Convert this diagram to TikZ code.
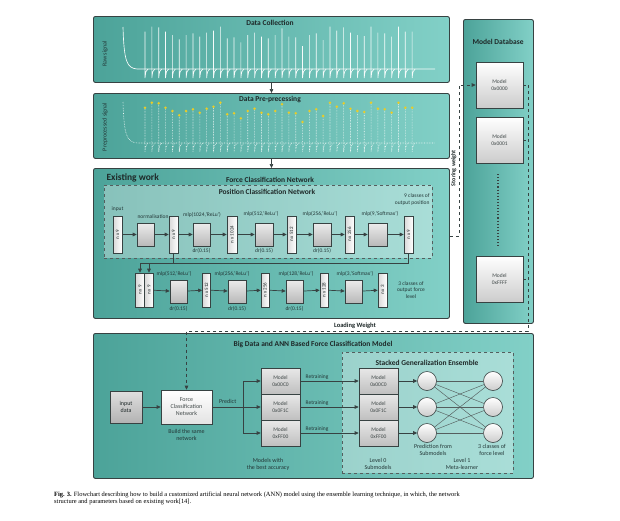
\documentclass[tikz,border=0pt]{standalone}
\usepackage{fontspec}
\setmainfont{Carlito}
\newfontfamily\capfont{Liberation Serif}
\usetikzlibrary{arrows.meta}
\definecolor{tealL}{RGB}{76,163,153}
\definecolor{tealR}{RGB}{130,208,199}
\definecolor{bordc}{RGB}{55,66,66}
\definecolor{txtc}{RGB}{30,40,40}
\definecolor{labc}{RGB}{35,55,55}
\definecolor{dotc}{RGB}{232,204,40}
\begin{document}
\begin{tikzpicture}[x=1pt,y=-1pt,
  tealbox/.style={draw=bordc, line width=0.9pt, rounded corners=2pt, left color=tealL, right color=tealR, inner sep=0pt, anchor=north west},
  dashbox/.style={draw=bordc!85, dashed, line width=0.7pt, fill=white, fill opacity=0.33, inner sep=0pt, anchor=north west},
  gbox/.style={draw=bordc, line width=0.6pt, top color=gray!15, bottom color=gray!55, inner sep=0pt, minimum height=23},
  vbar/.style={draw=bordc, line width=0.6pt, left color=gray!30, right color=white, inner sep=0pt, rotate=90, font=\fontsize{5}{6}\selectfont, text=txtc},
  mbox/.style={draw=bordc, line width=0.7pt, top color=white, bottom color=gray!40, inner sep=0pt, align=center, font=\fontsize{5.5}{6.6}\selectfont, text=txtc!85},
  circ/.style={circle, draw=bordc, line width=0.6pt, top color=white, bottom color=gray!40, minimum size=19, inner sep=0pt},
  ttl/.style={font=\bfseries\fontsize{7.5}{9}\selectfont, text=txtc},
  small/.style={font=\fontsize{5.5}{6.6}\selectfont, text=labc},
  lbl/.style={font=\fontsize{6}{7}\selectfont, text=labc, align=center},
  arr/.style={draw=bordc, line width=0.7pt, -{Triangle[length=4pt,width=3.6pt]}},
  plain/.style={draw=bordc, line width=0.7pt},
  dashln/.style={draw=bordc, line width=0.7pt, dashed},
  dasharr/.style={draw=bordc, line width=0.7pt, dashed, -{Triangle[length=4pt,width=3.6pt]}},
  sig/.style={draw=white, line width=0.65pt, opacity=0.95},
  sigd/.style={draw=white, line width=0.6pt, densely dotted, opacity=0.9}
]
\useasboundingbox (0,0) rectangle (620,520);
\fill[white] (0,0) rectangle (620,520);

% ---------- main boxes ----------
\node[tealbox, minimum width=356, minimum height=66] (dc) at (93,16) {};
\node[tealbox, minimum width=356, minimum height=65] (dp) at (93,93) {};
\node[tealbox, minimum width=356, minimum height=150] (ew) at (93,168) {};
\node[tealbox, minimum width=70, minimum height=304] (db) at (463,19) {};
\node[tealbox, minimum width=440, minimum height=145] (bd) at (93,333) {};

\draw[arr] (dc) -- (dp);
\draw[arr] (dp) -- (ew);

% ---------- signals ----------
\node[ttl] (tdc) at (270,23) {Data Collection};
\node[ttl] (tdp) at (270,99) {Data Pre-precessing};
\node[rotate=90, font=\fontsize{6}{7}\selectfont, text=labc] (lraw) at (105,54) {Raw signal};
\node[rotate=90, font=\fontsize{6}{7}\selectfont, text=labc] (lpre) at (105,127) {Preprocessed signal};

\draw[sig] (123,27) .. controls (124,62) and (127,68) .. (137,69) -- (435,69);
\draw[sigd] (123,102) .. controls (124,136) and (127,142) .. (137,143) -- (435,143);
\foreach \h [count=\i from 0] in {31.7,26.7,27.3,31.7,35,39.3,35,33.3,36.7,32.7,30.7,26.7,38.3,37.3,42.3,35,32.7,36.7,38.3,35,28.3,36.7,37.3,46,35,33.3,40,26.7,30.7,27.3,32.7,35,36,26.7,32.7,33.3,36.7,26.7,31.7,31.7} {
  \pgfmathsetmacro{\xx}{145+\i*6.85}
  \pgfmathsetmacro{\hp}{\h+76}
  \draw[sig] (\xx,\h) -- (\xx,78) .. controls (\xx+0.8,71) .. (\xx+3,69);
  \draw[sigd] (\xx,\hp) -- (\xx,152) .. controls (\xx+0.8,145) .. (\xx+3,143);
  \fill[dotc] (\xx,\hp) circle (1.4);
}

% ---------- existing work ----------
\node[anchor=west, font=\bfseries\fontsize{9.5}{11}\selectfont, text=txtc] (tew) at (103,178) {Existing work};
\node[ttl] (tfcn) at (270,180) {Force Classification Network};
\node[dashbox, minimum width=328, minimum height=73] (pcn) at (104,185) {};
\node[ttl] (tpcn) at (267,192) {Position Classification Network};
\node[small, align=right, anchor=east] (t9c) at (433,199.5) {9 classes of\\output position};

% row 1
\node[vbar, minimum width=37, minimum height=9] (in1) at (117.5,234.5) {n x 9};
\node[gbox, minimum width=17] (norm) at (145.5,234.5) {};
\node[vbar, minimum width=37, minimum height=9] (v1) at (173.5,234.5) {n x 9};
\node[gbox, minimum width=17] (b1) at (201.5,234.5) {};
\node[vbar, minimum width=37, minimum height=10] (v2) at (232,234.5) {n x 1024};
\node[gbox, minimum width=18] (b2) at (264,234.5) {};
\node[vbar, minimum width=37, minimum height=9] (v3) at (291.5,234.5) {n x 512};
\node[gbox, minimum width=18] (b3) at (322,234.5) {};
\node[vbar, minimum width=37, minimum height=9] (v4) at (349.5,234.5) {n x 256};
\node[gbox, minimum width=19] (b4) at (377.5,234.5) {};
\node[vbar, minimum width=37, minimum height=9] (v5) at (408.5,234.5) {n x 9};

\node[small] (tin) at (117.5,209) {input};
\node[small] (tnorm) at (153,217) {normalisation};
\node[small] (tm1) at (202,215) {mlp(1024,'ReLu')};
\node[small] (tm2) at (261,214) {mlp(512,'ReLu')};
\node[small] (tm3) at (320,214) {mlp(256,'ReLu')};
\node[small] (tm4) at (380,214) {mlp(9,'Softmax')};
\node[small] (td1) at (201.5,250.5) {dr(0.15)};
\node[small] (td2) at (264,250.5) {dr(0.15)};
\node[small] (td3) at (322,250.5) {dr(0.15)};

\draw[arr] (in1) -- (norm);
\draw[arr] (norm) -- (v1);
\draw[arr] (v1) -- (b1);
\draw[arr] (b1) -- (v2);
\draw[arr] (v2) -- (b2);
\draw[arr] (b2) -- (v3);
\draw[arr] (v3) -- (b3);
\draw[arr] (b3) -- (v4);
\draw[arr] (v4) -- (b4);
\draw[arr] (b4) -- (v5);

% row 2
\node[vbar, minimum width=34, minimum height=8.5] (w1) at (140,290) {n x 9};
\node[vbar, minimum width=34, minimum height=8.5] (w2) at (149,290) {n x 9};
\node[gbox, minimum width=17] (c1) at (178.5,291.5) {};
\node[vbar, minimum width=34, minimum height=8] (u1) at (206.5,290) {n x 512};
\node[gbox, minimum width=18] (c2) at (237,291.5) {};
\node[vbar, minimum width=34, minimum height=8] (u2) at (265,290) {n x 256};
\node[gbox, minimum width=17] (c3) at (294.5,291.5) {};
\node[vbar, minimum width=34, minimum height=8] (u3) at (324,290) {n x 128};
\node[gbox, minimum width=17] (c4) at (353.5,291.5) {};
\node[vbar, minimum width=34, minimum height=9] (u4) at (382.5,290) {n x 3};

\node[small] (tn1) at (174,274) {mlp(512,'ReLu')};
\node[small] (tn2) at (232,274) {mlp(256,'ReLu')};
\node[small] (tn3) at (296,274) {mlp(128,'ReLu')};
\node[small] (tn4) at (355,274) {mlp(3,'Softmax')};
\node[small] (te1) at (178.5,308.5) {dr(0.15)};
\node[small] (te2) at (237,308.5) {dr(0.15)};
\node[small] (te3) at (294.5,308.5) {dr(0.15)};
\node[small, align=center] (t3c) at (411,290) {3 classes of\\output force\\level};

\coordinate (jn) at (140,263.5);
\draw[plain] (v1.west) -- (v1.west |- jn);
\draw[plain] (v5.west) |- (jn);
\draw[arr] (jn) -- (w1);
\draw[arr] (jn -| w2) -- (w2);
\draw[arr] (w2) -- (c1);
\draw[arr] (c1) -- (u1);
\draw[arr] (u1) -- (c2);
\draw[arr] (c2) -- (u2);
\draw[arr] (u2) -- (c3);
\draw[arr] (c3) -- (u3);
\draw[arr] (u3) -- (c4);
\draw[arr] (c4) -- (u4);

% ---------- model database ----------
\node[ttl] (tdb) at (498,42) {Model Database};
\node[mbox, minimum width=47, minimum height=46] (m0) at (499.5,85) {Model\\0x0000};
\node[mbox, minimum width=47, minimum height=46] (m1) at (499.5,140) {Model\\0x0001};
\node[mbox, minimum width=47, minimum height=46] (mF) at (499.5,279) {Model\\0xFFFF};
\draw[bordc, line width=1.1pt, dotted] (498,174) -- (498,247);

% storing weight
\coordinate (sw) at (459,236);
\draw[dasharr] (sw -| ew.east) -- (sw) |- (m0.west);
\node[rotate=90, font=\bfseries\fontsize{6}{7}\selectfont, text=txtc] (tsw) at (453.8,168) {Storing weight};

% loading weight
\coordinate (lw) at (528,331);
\draw[dashln] (m0.east) -- (m0.east -| lw);
\draw[dashln] (m1.east) -- (m1.east -| lw);
\draw[dashln] (mF.east) -- (mF.east -| lw);

% ---------- big data box ----------
\node[ttl] (tbd) at (313,344.5) {Big Data and ANN Based Force Classification Model};
\node[dashbox, minimum width=171, minimum height=121] (sge) at (342,352) {};
\node[ttl] (tsge) at (427,362.5) {Stacked Generalization Ensemble};

\node[draw=bordc, line width=0.7pt, top color=gray!25, bottom color=gray!60, minimum width=32, minimum height=32, inner sep=0pt, align=center, font=\fontsize{6}{7}\selectfont, text=txtc] (inp) at (126,407) {input\\data};
\node[mbox, top color=white, bottom color=gray!22, minimum width=51, minimum height=34, font=\fontsize{6}{7}\selectfont] (fcn) at (186.5,407) {Force\\Classification\\Network};
\node[lbl] (tbsn) at (186.5,434.5) {Build the same\\network};

\draw[dasharr] (m0.east -| lw) -- (lw) -| (fcn.north);
\node[font=\bfseries\fontsize{6.5}{7.5}\selectfont, text=txtc] (tlw) at (355,325.5) {Loading Weight};

\draw[arr] (inp) -- (fcn);

\node[mbox, top color=gray!18, bottom color=gray!50, minimum width=39, minimum height=26] (mA) at (280.5,381) {Model\\0x00C0};
\node[mbox, top color=gray!18, bottom color=gray!50, minimum width=39, minimum height=26] (mB) at (280.5,407) {Model\\0x0F1C};
\node[mbox, top color=gray!18, bottom color=gray!50, minimum width=39, minimum height=26] (mC) at (280.5,433) {Model\\0xFF00};
\node[lbl] (tmba) at (268,464) {Models with\\the best accuracy};

\coordinate (sp) at (243,407);
\draw[plain] (fcn) -- (sp) node[midway, above, font=\fontsize{6}{7}\selectfont, text=labc] (tpred) {Predict};
\draw[plain] (sp |- mA) -- (sp |- mC);
\draw[arr] (sp |- mA) -- (mA);
\draw[arr] (sp |- mB) -- (mB);
\draw[arr] (sp |- mC) -- (mC);

\node[mbox, top color=gray!18, bottom color=gray!50, minimum width=39, minimum height=26] (eA) at (378.5,381) {Model\\0x00C0};
\node[mbox, top color=gray!18, bottom color=gray!50, minimum width=39, minimum height=26] (eB) at (378.5,407) {Model\\0x0F1C};
\node[mbox, top color=gray!18, bottom color=gray!50, minimum width=39, minimum height=26] (eC) at (378.5,433) {Model\\0xFF00};

\draw[arr] (mA) -- (eA) node[pos=0.06, above right, inner sep=1.5pt, font=\fontsize{5.5}{6.6}\selectfont, text=labc] (tr1) {Retraining};
\draw[arr] (mB) -- (eB) node[pos=0.06, above right, inner sep=1.5pt, font=\fontsize{5.5}{6.6}\selectfont, text=labc] (tr2) {Retraining};
\draw[arr] (mC) -- (eC) node[pos=0.06, above right, inner sep=1.5pt, font=\fontsize{5.5}{6.6}\selectfont, text=labc] (tr3) {Retraining};

\node[circ] (p1) at (427,381) {};
\node[circ] (p2) at (427,407) {};
\node[circ] (p3) at (427,433) {};
\node[circ] (q1) at (493,381) {};
\node[circ] (q2) at (493,407) {};
\node[circ] (q3) at (493,433) {};
\draw[arr] (eA) -- (p1);
\draw[arr] (eB) -- (p2);
\draw[arr] (eC) -- (p3);
\foreach \a in {p1,p2,p3} {
  \foreach \b in {q1,q2,q3} {
    \draw[bordc!85, line width=0.45pt] (\a) -- (\b);
  }
}

\node[lbl] (tpfs) at (433,449.5) {Prediction from\\Submodels};
\node[lbl] (t3f) at (492,449.5) {3 classes of\\force level};
\node[lbl] (tl0) at (378,464) {Level 0\\Submodels};
\node[lbl] (tl1) at (462,464) {Level 1\\Meta-learner};

% ---------- caption ----------
\node[anchor=north west, align=left, inner sep=0pt, font=\capfont\fontsize{6.45}{7.6}\selectfont] (cap) at (54,491.5)
 {\textbf{Fig. 3.} Flowchart describing how to build a customized artificial neural network (ANN) model using the ensemble learning technique, in which, the network\\structure and parameters based on existing work[14].};
\end{tikzpicture}
\end{document}
